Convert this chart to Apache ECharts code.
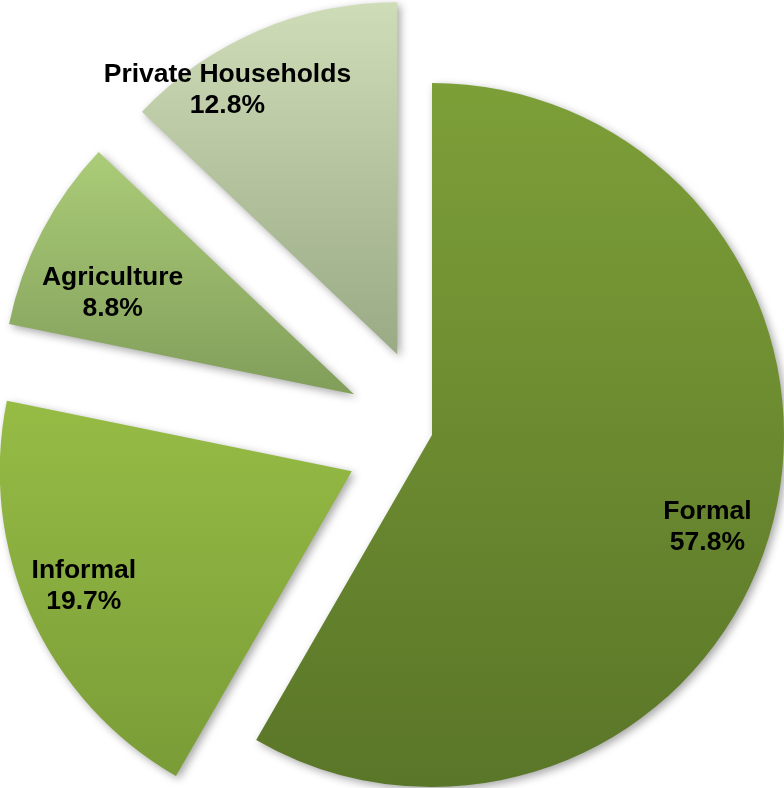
<!DOCTYPE html>
<html>
<head>
<meta charset="utf-8">
<script src="https://cdn.jsdelivr.net/npm/echarts@6/dist/echarts.min.js"></script>
<style>
html,body{margin:0;padding:0;background:#fff;}
#chart{width:784px;height:788px;}
</style>
</head>
<body>
<div id="chart"></div>
<script>
// Data
const categories = ['Formal', 'Informal', 'Agriculture', 'Private Households'];
const values = [57.8, 19.7, 8.8, 12.8];
const exploded = [false, true, true, true];

// Styles
const gradients = [
  ['#7d9f38', '#5a7628'],
  ['#96bc45', '#7a9c37'],
  ['#abcc78', '#819e5a'],
  ['#cfdcb8', '#99aa84']
];
const labelRadius = [0.815, 0.82, 0.732, 0.87];
const labelTangent = [18, 5, -22, -52];
const CX = 432, CY = 435, R = 352, OFFSET = 88;

const chart = echarts.init(document.getElementById('chart'));

const data = categories.map((name, i) => ({
  name: name,
  value: values[i],
  selected: exploded[i],
  itemStyle: {
    color: {
      type: 'linear', x: 0, y: 0, x2: 0, y2: 1,
      colorStops: [
        { offset: 0, color: gradients[i][0] },
        { offset: 1, color: gradients[i][1] }
      ]
    }
  }
}));

chart.setOption({
  animation: false,
  backgroundColor: '#ffffff',
  series: [{
    type: 'pie',
    center: [CX, CY],
    radius: [0, R],
    startAngle: 90,
    clockwise: true,
    selectedMode: 'multiple',
    selectedOffset: OFFSET,
    avoidLabelOverlap: false,
    itemStyle: {
      borderWidth: 0,
      shadowBlur: 8,
      shadowColor: 'rgba(0,0,0,0.35)',
      shadowOffsetX: 3,
      shadowOffsetY: 3
    },
    emphasis: { disabled: true },
    select: { itemStyle: {} },
    label: {
      show: true,
      position: 'inside',
      formatter: '{b}\n{c}%',
      color: '#000',
      fontFamily: '"Liberation Sans", Arial, sans-serif',
      fontWeight: 'bold',
      fontSize: 26.5,
      lineHeight: 31,
      align: 'center'
    },
    labelLine: { show: false },
    labelLayout: function (p) {
      const i = p.dataIndex;
      const lx = p.labelRect.x + p.labelRect.width / 2;
      const ly = p.labelRect.y + p.labelRect.height / 2;
      let vx = lx - CX, vy = ly - CY;
      const len = Math.hypot(vx, vy) || 1;
      vx /= len; vy /= len;
      const along = (labelRadius[i] - 0.5) * R;
      const t = labelTangent[i];
      return {
        dx: along * vx + t * (-vy),
        dy: along * vy + t * vx
      };
    },
    data: data
  }]
});
</script>
</body>
</html>
